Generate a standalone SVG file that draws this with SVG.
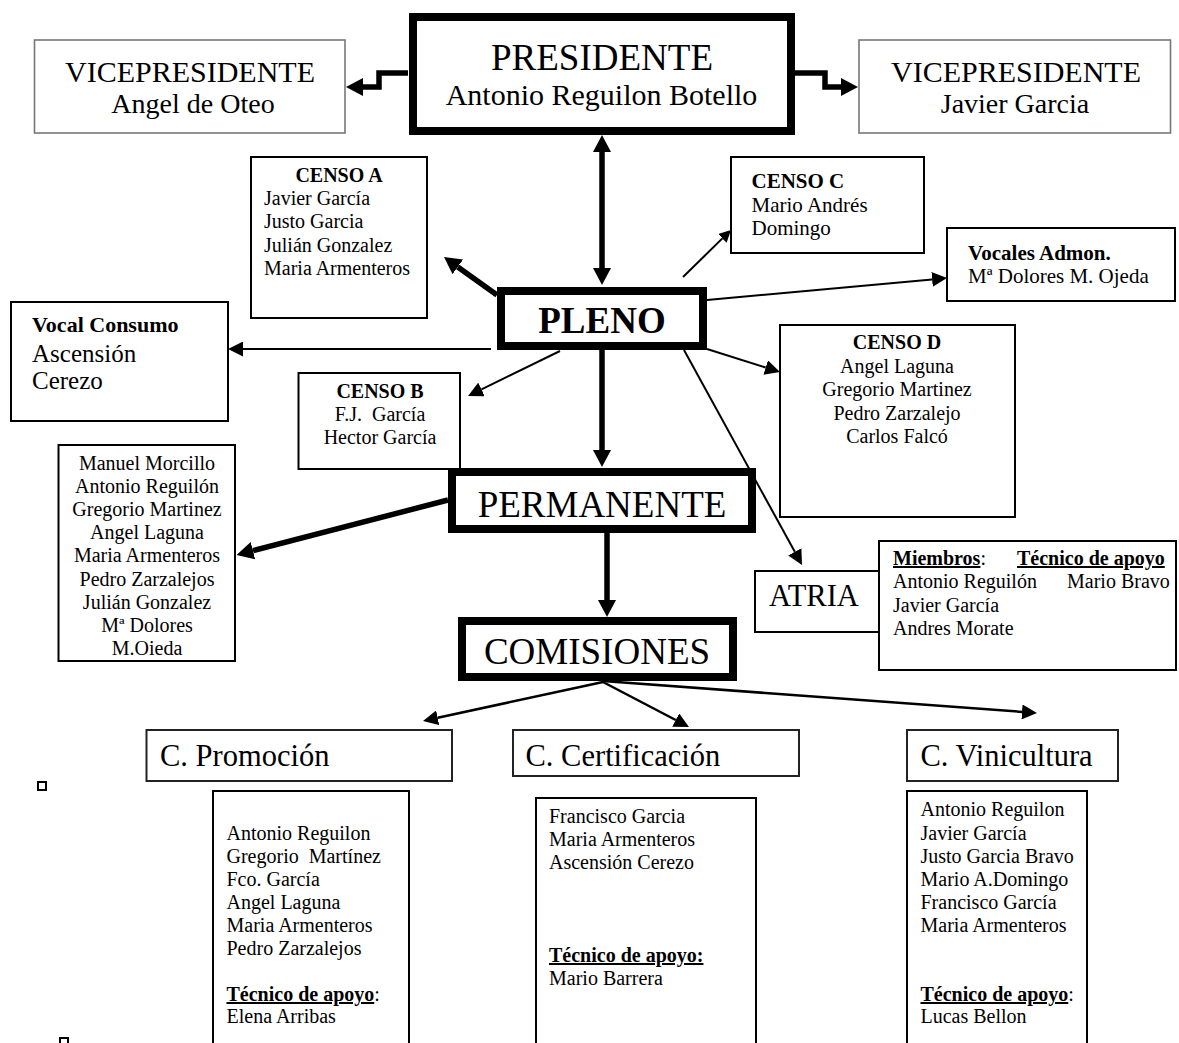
<svg xmlns="http://www.w3.org/2000/svg" width="1179" height="1043" viewBox="0 0 1179 1043">
<style>
text{font-family:"Liberation Serif","Times New Roman",serif;fill:#000}
.box{fill:#fff;stroke:#000;stroke-width:2}
.gbox{fill:#fff;stroke:#777;stroke-width:1.6}
.cbox{fill:#fff;stroke:#222;stroke-width:2}
.hbox{fill:#fff;stroke:#000;stroke-width:8}
.b{font-weight:bold}
.u{text-decoration:underline}
.thick{fill:none;stroke:#000;stroke-width:5.5}
.thin{fill:none;stroke:#000;stroke-width:2}
.mid{fill:none;stroke:#000;stroke-width:2.5}
.s20{font-size:20px}
.s21{font-size:21px}
.c{text-anchor:middle}
</style>
<defs>
<marker id="ah" markerUnits="userSpaceOnUse" markerWidth="17" markerHeight="18" viewBox="0 0 17 18" refX="0" refY="9" orient="auto-start-reverse"><path d="M0,0 L17,9 L0,18 z" fill="#000"/></marker>
<marker id="at" markerUnits="userSpaceOnUse" markerWidth="15" markerHeight="15" viewBox="0 0 15 15" refX="0" refY="7.5" orient="auto"><path d="M0,0 L15,7.5 L0,15 z" fill="#000"/></marker>
<marker id="as" markerUnits="userSpaceOnUse" markerWidth="12" markerHeight="12" viewBox="0 0 12 12" refX="0" refY="6" orient="auto"><path d="M0,0 L12,6 L0,12 z" fill="#000"/></marker>
</defs>
<rect width="1179" height="1043" fill="#fff"/>

<g id="connectors">
<polyline class="thick" points="408,73 379,73 379,87 363,87" marker-end="url(#ah)"/>
<polyline class="thick" points="795,73 825,73 825,87 841,87" marker-end="url(#ah)"/>
<line class="thick" x1="602" y1="152" x2="602" y2="268" marker-start="url(#ah)" marker-end="url(#ah)"/>
<line class="thick" x1="497" y1="295" x2="457.8" y2="266.9" marker-end="url(#ah)"/>
<line class="thick" x1="602" y1="350" x2="602" y2="450" marker-end="url(#ah)"/>
<line class="thick" x1="607" y1="533" x2="607" y2="600" marker-end="url(#ah)"/>
<line class="thick" x1="448" y1="500" x2="253" y2="550.7" marker-end="url(#ah)"/>
<line class="thin" x1="683" y1="277" x2="722.4" y2="238.4" marker-end="url(#as)"/>
<line class="thin" x1="707" y1="300" x2="932.1" y2="279.4" marker-end="url(#at)"/>
<line class="thin" x1="491" y1="349" x2="243" y2="349" marker-end="url(#at)"/>
<line class="thin" x1="560" y1="351" x2="481.5" y2="389.4" marker-end="url(#at)"/>
<line class="thin" x1="707" y1="349" x2="765.7" y2="367.5" marker-end="url(#at)"/>
<line class="thin" x1="684" y1="350" x2="794.8" y2="551.8" marker-end="url(#at)"/>
<line class="mid" x1="603" y1="682" x2="437.7" y2="717.8" marker-end="url(#at)"/>
<line class="mid" x1="603" y1="682" x2="675.7" y2="720" marker-end="url(#at)"/>
<line class="mid" x1="603" y1="681" x2="1022" y2="711.9" marker-end="url(#at)"/>
</g>

<g id="vp-left">
<rect class="gbox" x="34.5" y="40" width="310.5" height="93"/>
<text class="c" x="190" y="82" font-size="30">VICEPRESIDENTE</text>
<text class="c" x="193" y="113" font-size="28">Angel de Oteo</text>
</g>

<g id="presidente">
<rect class="hbox" x="413" y="17" width="378" height="114"/>
<text class="c" x="602" y="70" font-size="37">PRESIDENTE</text>
<text class="c" x="601.5" y="105" font-size="30">Antonio Reguilon Botello</text>
</g>

<g id="vp-right">
<rect class="gbox" x="859" y="40" width="311.5" height="93"/>
<text class="c" x="1016" y="82" font-size="30">VICEPRESIDENTE</text>
<text class="c" x="1015" y="113" font-size="28">Javier Garcia</text>
</g>

<g id="censo-a">
<rect class="box" x="251" y="157" width="176" height="161"/>
<text class="c s20 b" x="339" y="182">CENSO A</text>
<text class="s20" x="264" y="205">Javier García</text>
<text class="s20" x="264" y="228">Justo Garcia</text>
<text class="s20" x="264" y="252">Julián Gonzalez</text>
<text class="s20" x="264" y="275">Maria Armenteros</text>
</g>

<g id="censo-c">
<rect class="box" x="731" y="157" width="193" height="96"/>
<text class="s21 b" x="751.5" y="188">CENSO C</text>
<text class="s21" x="751.5" y="212">Mario Andrés</text>
<text class="s21" x="751.5" y="235">Domingo</text>
</g>

<g id="vocales-admon">
<rect class="box" x="947" y="228" width="228" height="73"/>
<text class="s21 b" x="968" y="260">Vocales Admon.</text>
<text class="s21" x="968" y="283">Mª Dolores M. Ojeda</text>
</g>

<g id="vocal-consumo">
<rect class="box" x="11" y="302" width="217" height="119"/>
<text class="b" x="32" y="332" font-size="22">Vocal Consumo</text>
<text x="32" y="362" font-size="25">Ascensión</text>
<text x="32" y="389" font-size="25">Cerezo</text>
</g>

<g id="pleno">
<rect class="hbox" x="501" y="291" width="202" height="55" stroke-width="7"/>
<text class="c b" x="602" y="333" font-size="37">PLENO</text>
</g>

<g id="censo-b">
<rect class="box" x="298.5" y="373" width="161.5" height="96"/>
<text class="c s20 b" x="380" y="398">CENSO B</text>
<text class="c s20" x="380" y="421" xml:space="preserve">F.J.  García</text>
<text class="c s20" x="380" y="444">Hector García</text>
</g>

<g id="censo-d">
<rect class="box" x="780" y="325" width="235" height="192"/>
<text class="c s20 b" x="897" y="349">CENSO D</text>
<text class="c s20" x="897" y="372.5">Angel Laguna</text>
<text class="c s20" x="897" y="396">Gregorio Martinez</text>
<text class="c s20" x="897" y="419.5">Pedro Zarzalejo</text>
<text class="c s20" x="897" y="443">Carlos Falcó</text>
</g>

<g id="permanente-miembros">
<rect class="box" x="58.5" y="445" width="176.5" height="216"/>
<text class="c s20" x="147" y="470">Manuel Morcillo</text>
<text class="c s20" x="147" y="493">Antonio Reguilón</text>
<text class="c s20" x="147" y="516">Gregorio Martinez</text>
<text class="c s20" x="147" y="539">Angel Laguna</text>
<text class="c s20" x="147" y="562">Maria Armenteros</text>
<text class="c s20" x="147" y="585.5">Pedro Zarzalejos</text>
<text class="c s20" x="147" y="608.5">Julián Gonzalez</text>
<text class="c s20" x="147" y="631.5">Mª Dolores</text>
<text class="c s20" x="147" y="654.5">M.Oieda</text>
</g>

<g id="permanente">
<rect class="hbox" x="452" y="472" width="300" height="57"/>
<text class="c" x="602" y="517" font-size="37">PERMANENTE</text>
</g>

<g id="atria">
<rect class="box" x="755" y="571" width="124" height="61"/>
<text class="c" x="814" y="606" font-size="30.5">ATRIA</text>
</g>

<g id="atria-miembros">
<rect class="box" x="879" y="541" width="297" height="129"/>
<text class="s20" x="893" y="565"><tspan class="b u">Miembros</tspan>:</text>
<text class="s20 b u" x="1017" y="565">Técnico de apoyo</text>
<text class="s20" x="893" y="588">Antonio Reguilón</text>
<text class="s20" x="1067" y="588">Mario Bravo</text>
<text class="s20" x="893" y="612">Javier García</text>
<text class="s20" x="893" y="635">Andres Morate</text>
</g>

<g id="comisiones">
<rect class="hbox" x="462" y="621" width="271" height="56"/>
<text class="c" x="597" y="664" font-size="37">COMISIONES</text>
</g>

<g id="c-promocion">
<rect class="cbox" x="146.5" y="730" width="305.5" height="51"/>
<text x="160" y="766" font-size="30.5">C. Promoción</text>
</g>

<g id="c-certificacion">
<rect class="cbox" x="513" y="730" width="286" height="46"/>
<text x="525.5" y="766" font-size="30.5">C. Certificación</text>
</g>

<g id="c-vinicultura">
<rect class="cbox" x="907" y="730" width="211" height="51"/>
<text x="920.5" y="766" font-size="30.5">C. Vinicultura</text>
</g>

<g id="promocion-miembros">
<rect class="box" x="213" y="791" width="196" height="270"/>
<text class="s20" x="226.5" y="840">Antonio Reguilon</text>
<text class="s20" x="226.5" y="863" xml:space="preserve">Gregorio  Martínez</text>
<text class="s20" x="226.5" y="886">Fco. García</text>
<text class="s20" x="226.5" y="908.5">Angel Laguna</text>
<text class="s20" x="226.5" y="932">Maria Armenteros</text>
<text class="s20" x="226.5" y="955">Pedro Zarzalejos</text>
<text class="s20" x="226.5" y="1001"><tspan class="b u">Técnico de apoyo</tspan>:</text>
<text class="s20" x="226.5" y="1023">Elena Arribas</text>
</g>

<g id="certificacion-miembros">
<rect class="box" x="536" y="798" width="220" height="263"/>
<text class="s20" x="549" y="823">Francisco Garcia</text>
<text class="s20" x="549" y="846">Maria Armenteros</text>
<text class="s20" x="549" y="869">Ascensión Cerezo</text>
<text class="s20 b u" x="549" y="962">Técnico de apoyo:</text>
<text class="s20" x="549" y="985">Mario Barrera</text>
</g>

<g id="vinicultura-miembros">
<rect class="box" x="907" y="791" width="180" height="270"/>
<text class="s20" x="920.5" y="816">Antonio Reguilon</text>
<text class="s20" x="920.5" y="840">Javier García</text>
<text class="s20" x="920.5" y="863">Justo Garcia Bravo</text>
<text class="s20" x="920.5" y="885.5">Mario A.Domingo</text>
<text class="s20" x="920.5" y="908.5">Francisco García</text>
<text class="s20" x="920.5" y="932">Maria Armenteros</text>
<text class="s20" x="920.5" y="1001"><tspan class="b u">Técnico de apoyo</tspan>:</text>
<text class="s20" x="920.5" y="1023">Lucas Bellon</text>
</g>

<rect x="38" y="782" width="8" height="8" fill="#fff" stroke="#000" stroke-width="2"/>
<rect x="60" y="1038" width="8" height="8" fill="#fff" stroke="#000" stroke-width="2"/>
</svg>
